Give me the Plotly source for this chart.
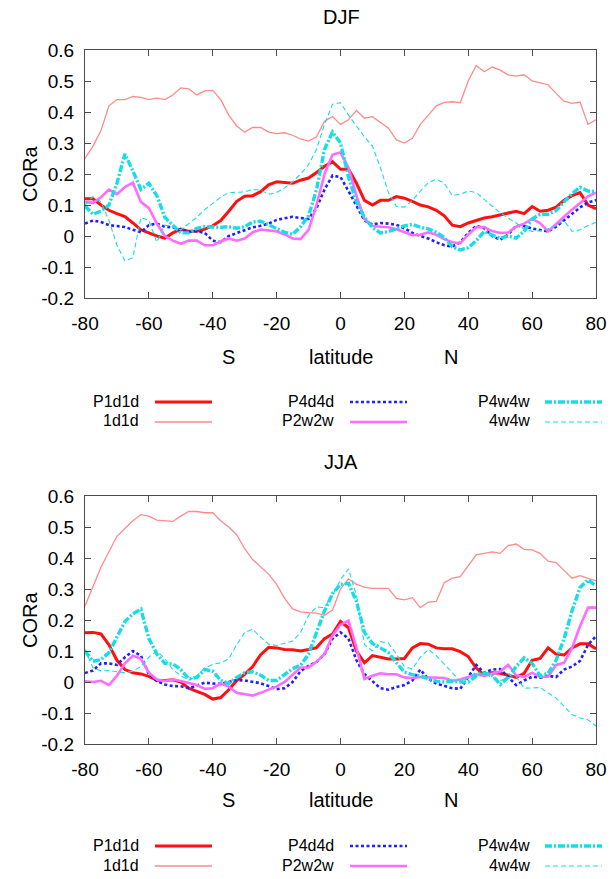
import plotly.graph_objects as go

lat = [-80, -77.5, -75, -72.5, -70, -67.5, -65, -62.5, -60, -57.5,
       -55, -52.5, -50, -47.5, -45, -42.5, -40, -37.5, -35, -32.5,
       -30, -27.5, -25, -22.5, -20, -17.5, -15, -12.5, -10, -7.5,
       -5, -2.5, 0, 2.5, 5, 7.5, 10, 12.5, 15, 17.5,
       20, 22.5, 25, 27.5, 30, 32.5, 35, 37.5, 40, 42.5,
       45, 47.5, 50, 52.5, 55, 57.5, 60, 62.5, 65, 67.5,
       70, 72.5, 75, 77.5, 80]

series_names = ["P1d1d", "1d1d", "P4d4d", "P2w2w", "P4w4w", "4w4w"]

# ---------------- DJF ----------------
djf_P1d1d = [0.12, 0.12, 0.10, 0.083, 0.072, 0.063, 0.042, 0.02, 0.01, 0.0,
             -0.007, 0.01, 0.022, 0.015, 0.015, 0.022, 0.033, 0.05, 0.08, 0.112,
             0.128, 0.13, 0.143, 0.165, 0.175, 0.172, 0.17, 0.18, 0.187, 0.205,
             0.225, 0.24, 0.215, 0.215, 0.17, 0.115, 0.1, 0.115, 0.115, 0.127,
             0.122, 0.112, 0.1, 0.094, 0.083, 0.065, 0.035, 0.03, 0.042, 0.05,
             0.058, 0.062, 0.068, 0.072, 0.08, 0.072, 0.095, 0.08, 0.083, 0.093,
             0.115, 0.13, 0.14, 0.1, 0.088]
djf_1d1d = [0.25, 0.29, 0.34, 0.42, 0.44, 0.44, 0.45, 0.447, 0.44, 0.445,
            0.44, 0.455, 0.478, 0.475, 0.455, 0.468, 0.47, 0.44, 0.39, 0.355,
            0.335, 0.35, 0.35, 0.335, 0.33, 0.333, 0.325, 0.313, 0.306, 0.32,
            0.37, 0.385, 0.36, 0.375, 0.405, 0.38, 0.385, 0.365, 0.348, 0.31,
            0.3, 0.315, 0.36, 0.39, 0.42, 0.431, 0.433, 0.43, 0.5, 0.55,
            0.53, 0.545, 0.535, 0.52, 0.516, 0.52, 0.5, 0.494, 0.488, 0.46,
            0.435, 0.428, 0.432, 0.36, 0.375]
djf_P4d4d = [0.04, 0.05, 0.045, 0.035, 0.032, 0.029, 0.02, 0.012, 0.035, 0.04,
             0.03, 0.028, 0.02, 0.014, 0.016, 0.01, -0.015, -0.02, 0.0, 0.01,
             0.02, 0.028, 0.033, 0.04, 0.052, 0.056, 0.062, 0.058, 0.055, 0.09,
             0.15, 0.195, 0.19, 0.145, 0.095, 0.05, 0.037, 0.042, 0.04, 0.036,
             0.025, 0.01, 0.0, -0.008, -0.02, -0.03, -0.034, -0.02, 0.01, 0.033,
             0.025, 0.0, -0.012, 0.005, 0.033, 0.032, 0.024, 0.02, 0.015, 0.03,
             0.05, 0.072, 0.092, 0.108, 0.116]
djf_P2w2w = [0.11, 0.107, 0.125, 0.15, 0.135, 0.158, 0.172, 0.11, 0.09, 0.04,
             0.0, -0.015, -0.025, -0.015, -0.015, -0.03, -0.03, -0.017, -0.008, -0.015,
             -0.008, 0.012, 0.021, 0.019, 0.015, 0.005, -0.008, -0.01, 0.02, 0.1,
             0.2, 0.262, 0.27, 0.22, 0.13, 0.055, 0.032, 0.03, 0.028, 0.022,
             0.012, 0.003, 0.004, 0.012, 0.004, -0.01, -0.02, -0.024, 0.005, 0.028,
             0.029, 0.016, 0.01, 0.011, 0.03, 0.04, 0.055, 0.042, 0.015, 0.04,
             0.062, 0.085, 0.105, 0.128, 0.14]
djf_P4w4w = [0.097, 0.07, 0.08, 0.1, 0.17, 0.265, 0.21, 0.15, 0.17, 0.13,
             0.06, 0.035, 0.01, 0.01, 0.025, 0.03, 0.028, 0.028, 0.03, 0.025,
             0.03, 0.045, 0.048, 0.035, 0.025, 0.012, 0.005, 0.03, 0.065, 0.15,
             0.28, 0.335, 0.3, 0.19, 0.11, 0.06, 0.027, 0.01, 0.014, 0.024,
             0.033, 0.038, 0.028, 0.023, 0.012, -0.005, -0.035, -0.045, -0.038, -0.015,
             0.015, 0.003, -0.007, 0.0, -0.007, 0.015, 0.055, 0.07, 0.07, 0.082,
             0.108, 0.137, 0.157, 0.145, 0.143]
djf_4w4w = [0.1, 0.127, 0.11, 0.05, -0.03, -0.08, -0.07, 0.06, 0.05, -0.02,
            0.035, 0.03, 0.02, 0.04, 0.06, 0.085, 0.105, 0.125, 0.14, 0.14,
            0.142, 0.15, 0.148, 0.135, 0.14, 0.155, 0.175, 0.2, 0.23, 0.28,
            0.36, 0.425, 0.43, 0.39, 0.355, 0.32, 0.29, 0.22, 0.14, 0.095,
            0.093, 0.115, 0.145, 0.172, 0.183, 0.17, 0.13, 0.135, 0.145, 0.14,
            0.118, 0.095, 0.075, 0.058, 0.042, 0.022, 0.015, 0.017, 0.023, 0.033,
            0.05, 0.015, 0.02, 0.034, 0.044]

# ---------------- JJA ----------------
jja_P1d1d = [0.159, 0.16, 0.155, 0.12, 0.07, 0.04, 0.03, 0.026, 0.018, 0.006,
             0.005, 0.007, 0.0, -0.02, -0.03, -0.04, -0.055, -0.05, -0.025, 0.005,
             0.025, 0.05, 0.088, 0.112, 0.11, 0.105, 0.104, 0.1, 0.105, 0.111,
             0.14, 0.155, 0.195, 0.175, 0.1, 0.062, 0.085, 0.08, 0.074, 0.074,
             0.076, 0.11, 0.124, 0.122, 0.11, 0.107, 0.107, 0.098, 0.082, 0.045,
             0.022, 0.03, 0.028, 0.022, 0.015, 0.028, 0.07, 0.076, 0.11, 0.09,
             0.087, 0.11, 0.123, 0.123, 0.107]
jja_1d1d = [0.245, 0.31, 0.37, 0.42, 0.47, 0.495, 0.52, 0.54, 0.535, 0.522,
            0.52, 0.518, 0.535, 0.55, 0.55, 0.546, 0.546, 0.52, 0.5, 0.475,
            0.43, 0.395, 0.372, 0.348, 0.315, 0.27, 0.236, 0.226, 0.224, 0.222,
            0.215, 0.232, 0.3, 0.333, 0.315, 0.306, 0.302, 0.303, 0.302, 0.27,
            0.265, 0.272, 0.24, 0.258, 0.26, 0.32, 0.335, 0.34, 0.375, 0.41,
            0.415, 0.42, 0.415, 0.44, 0.445, 0.428, 0.426, 0.415, 0.39, 0.385,
            0.36, 0.335, 0.343, 0.335, 0.326]
jja_P4d4d = [0.029, 0.037, 0.06, 0.06, 0.055, 0.08, 0.1, 0.085, 0.025, 0.003,
             -0.008, -0.013, -0.014, -0.02, -0.012, -0.002, -0.005, -0.006, 0.0, 0.006,
             0.005, 0.0, -0.004, -0.013, -0.023, -0.02, 0.0, 0.035, 0.052, 0.065,
             0.09, 0.14, 0.16, 0.14, 0.07, 0.025, 0.002, -0.02, -0.025, -0.016,
             -0.01, 0.005, 0.04, 0.01, -0.005, -0.012, -0.02, -0.022, 0.015, 0.055,
             0.03, 0.04, 0.042, 0.015, -0.01, 0.005, 0.017, 0.014, 0.02, 0.016,
             0.04, 0.05, 0.068, 0.12, 0.148]
jja_P2w2w = [0.002, 0.0, 0.004, -0.01, 0.02, 0.06, 0.085, 0.075, 0.03, 0.008,
             0.003, 0.008, 0.003, -0.003, -0.01, -0.022, -0.02, -0.005, -0.015, -0.035,
             -0.04, -0.044, -0.035, -0.025, -0.014, 0.0, 0.025, 0.047, 0.047, 0.065,
             0.09, 0.15, 0.185, 0.198, 0.11, 0.01, 0.02, 0.028, 0.025, 0.025,
             0.015, 0.013, 0.016, 0.015, 0.015, 0.013, 0.004, 0.008, 0.016, 0.025,
             0.02, 0.027, 0.034, 0.055, 0.022, 0.016, 0.03, 0.016, 0.017, 0.055,
             0.062, 0.11, 0.18, 0.24, 0.24]
jja_P4w4w = [0.1, 0.067, 0.072, 0.095, 0.145, 0.195, 0.22, 0.235, 0.14, 0.09,
             0.06, 0.058, 0.04, 0.01, 0.015, 0.04, 0.035, 0.005, -0.005, 0.015,
             0.03, 0.033, 0.022, 0.005, 0.005, 0.025, 0.043, 0.054, 0.09, 0.16,
             0.23, 0.285, 0.315, 0.318, 0.26, 0.16, 0.124, 0.11, 0.095, 0.062,
             0.032, 0.024, 0.02, 0.01, 0.003, 0.0, 0.002, 0.0, 0.0, 0.02,
             0.029, 0.022, -0.008, 0.015, 0.05, 0.078, 0.06, 0.02, 0.028, 0.07,
             0.14, 0.23, 0.305, 0.33, 0.31]
jja_4w4w = [0.105, 0.045, 0.036, 0.037, 0.033, 0.03, 0.035, 0.05, 0.08, 0.1,
            0.075, 0.04, 0.02, 0.006, 0.02, 0.045, 0.057, 0.062, 0.075, 0.12,
            0.16, 0.17, 0.145, 0.122, 0.118, 0.124, 0.132, 0.16, 0.215, 0.242,
            0.24, 0.28, 0.33, 0.365, 0.28, 0.12, 0.1, 0.13, 0.126, 0.09,
            0.05, 0.042, 0.08, 0.105, 0.085, 0.058, 0.03, 0.002, 0.012, 0.032,
            0.025, 0.015, 0.005, 0.014, 0.018, -0.02, -0.02, -0.018, -0.035, -0.052,
            -0.078, -0.105, -0.116, -0.122, -0.142]

x_tickvals = [-80, -60, -40, -20, 0, 20, 40, 60, 80]
x_ticktext = ["-80", "-60", "-40", "-20", "0", "20", "40", "60", "80"]
y_tickvals = [-0.2, -0.1, 0, 0.1, 0.2, 0.3, 0.4, 0.5, 0.6]
y_ticktext = ["-0.2", "-0.1", "0", "0.1", "0.2", "0.3", "0.4", "0.5", "0.6"]

panel_titles = ["DJF", "JJA"]
y_label = "CORa"
x_labels = ["S", "latitude", "N"]

# ---------------- styles ----------------
CYAN = "#16dde6"
styles = {
    "P1d1d": dict(color="#ff1010", width=3, dash="solid"),
    "1d1d": dict(color="#ff8a8a", width=1.3, dash="solid"),
    "P4d4d": dict(color="#2020ff", width=2.6, dash="3px,2.5px"),
    "P2w2w": dict(color="#ff6cff", width=2.6, dash="solid"),
    "P4w4w": dict(color=CYAN, width=3.4, dash="7px,2px,2px,2px"),
    "4w4w": dict(color=CYAN, width=1.1, dash="5px,3px"),
}

FONT = "Liberation Sans, Arial, Helvetica, sans-serif"
W, H = 610, 879
ML, MR, MT, MB = 85, 14, 50, 135
PW = W - ML - MR
PH = H - MT - MB


def px(xp):
    return (xp - ML) / PW


def py(yp):
    return (H - MB - yp) / PH


fig = go.Figure()

panels = [
    ("x", "y", dict(zip(series_names, [djf_P1d1d, djf_1d1d, djf_P4d4d, djf_P2w2w, djf_P4w4w, djf_4w4w]))),
    ("x2", "y2", dict(zip(series_names, [jja_P1d1d, jja_1d1d, jja_P4d4d, jja_P2w2w, jja_P4w4w, jja_4w4w]))),
]

for xa, ya, data in panels:
    for name in series_names:
        st = styles[name]
        fig.add_trace(go.Scatter(
            x=lat, y=data[name], mode="lines", name=name, xaxis=xa, yaxis=ya,
            showlegend=False,
            line=dict(color=st["color"], width=st["width"], dash=st["dash"]),
        ))

axis_common = dict(
    showline=True, mirror="allticks", linecolor="#4a4a4a", linewidth=1.3,
    ticks="inside", ticklen=6, tickwidth=1, tickcolor="#4a4a4a",
    showgrid=False, zeroline=False, automargin=False,
    tickfont=dict(family=FONT, size=19, color="#000"),
)

top_dom = [py(298), 1.0]
bot_dom = [0.0, py(496)]

fig.update_layout(
    width=W, height=H,
    margin=dict(l=ML, r=MR, t=MT, b=MB),
    paper_bgcolor="white", plot_bgcolor="white",
    showlegend=False,
    xaxis=dict(domain=[0, 1], range=[-80, 80], anchor="y", tickvals=x_tickvals,
               ticktext=x_ticktext, ticklabelstandoff=8, **axis_common),
    yaxis=dict(domain=top_dom, range=[-0.2, 0.6], anchor="x", tickvals=y_tickvals,
               ticktext=y_ticktext, ticklabelstandoff=6, **axis_common),
    xaxis2=dict(domain=[0, 1], range=[-80, 80], anchor="y2", tickvals=x_tickvals,
                ticktext=x_ticktext, ticklabelstandoff=8, **axis_common),
    yaxis2=dict(domain=bot_dom, range=[-0.2, 0.6], anchor="x2", tickvals=y_tickvals,
                ticktext=y_ticktext, ticklabelstandoff=6, **axis_common),
)

annotations = []
shapes = []


def text(s, xp, yp, size=19, anchor="center", angle=0):
    annotations.append(dict(
        text=s, x=px(xp), y=py(yp), xref="paper", yref="paper",
        xanchor=anchor, yanchor="middle", showarrow=False, textangle=angle,
        font=dict(family=FONT, size=size, color="#000"),
        borderpad=0,
    ))


for title, ty, cy, ly, leg_rows in [
    (panel_titles[0], 17, 174, 357, (401, 421)),
    (panel_titles[1], 462, 620, 800, (845, 865)),
]:
    text(title, 341, ty, size=20)
    text(y_label, 30, cy, size=20, angle=-90)
    text(x_labels[0], 228, ly, size=20)
    text(x_labels[1], 341, ly, size=20)
    text(x_labels[2], 451, ly, size=20)
    cols = [(140, 155, 212), (335, 350, 407), (531, 545, 602)]
    for i, name in enumerate(series_names):
        c = cols[i // 2]
        yrow = leg_rows[i % 2]
        text(name, c[0], yrow, size=16, anchor="right")
        st = styles[name]
        shapes.append(dict(
            type="line", xref="paper", yref="paper",
            x0=px(c[1]), x1=px(c[2]), y0=py(yrow + 1), y1=py(yrow + 1),
            line=dict(color=st["color"], width=st["width"], dash=st["dash"]),
        ))

fig.update_layout(annotations=annotations, shapes=shapes)

fig.write_html("out.html")
